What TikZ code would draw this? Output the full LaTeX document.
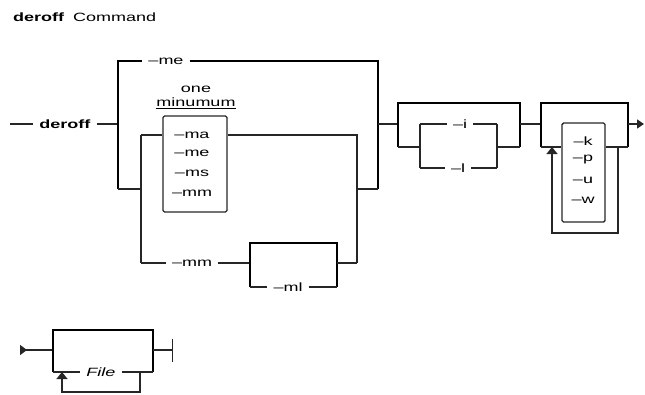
\documentclass[tikz,border=0pt]{standalone}
\usepackage{fontspec}
\usepackage{graphicx}
\setmainfont{Liberation Sans}
\usetikzlibrary{arrows.meta}
\newcommand{\wide}[1]{\scalebox{1.5}[1]{#1}}

\begin{document}
\begin{tikzpicture}[x=1pt,y=-1pt]
    \pgfmathsetmacro{\thin}{1.4}
    \pgfmathsetmacro{\thick}{2.8}
    \tikzset{every node/.style={font=\fontsize{12}{14}\selectfont},
        lbl/.style={inner xsep=6pt,inner ysep=1pt},
        item/.style={inner sep=1pt},
        grpbox/.style={draw=black!85,line width=\thin pt,rounded corners=1.5pt,inner sep=0pt},
        rail/.style={draw=black!85,line width=\thin pt},
        bar/.style={draw=black,line width=\thick pt},
        loopback/.style={rail,-{Triangle[length=7pt,width=11pt]}}}
    \useasboundingbox (0,0) rectangle (645,394);
    \node[anchor=west,inner sep=0pt] (title) at (13,17) {\wide{\textbf{deroff}}\hspace{9pt}\wide{Command}};
    \coordinate (s0) at (10,124);
    \coordinate (a1) at (118,124);
    \coordinate (a1t) at (118,61);
    \coordinate (a1b) at (118,189);
    \coordinate (a2) at (378,124);
    \coordinate (a2b) at (378,189);
    \coordinate (b1) at (141,189);
    \coordinate (b1t) at (141,135);
    \coordinate (b1b) at (141,263);
    \coordinate (b2) at (357,189);
    \coordinate (b2t) at (357,135);
    \coordinate (b2b) at (357,263);
    \coordinate (c1) at (250,263);
    \coordinate (c1t) at (250,243);
    \coordinate (c1b) at (250,287);
    \coordinate (c2) at (337,263);
    \coordinate (c2t) at (337,243);
    \coordinate (c2b) at (337,287);
    \coordinate (d1) at (398,124);
    \coordinate (d1t) at (398,103);
    \coordinate (d1b) at (398,147);
    \coordinate (d2) at (520,124);
    \coordinate (d2t) at (520,103);
    \coordinate (d2b) at (520,147);
    \coordinate (e1) at (420,147);
    \coordinate (e1t) at (420,124);
    \coordinate (e1b) at (420,168);
    \coordinate (e2) at (497,147);
    \coordinate (e2t) at (497,124);
    \coordinate (e2b) at (497,168);
    \coordinate (f1) at (541,124);
    \coordinate (f1t) at (541,103);
    \coordinate (f1b) at (541,147);
    \coordinate (f2) at (628,124);
    \coordinate (f2t) at (628,103);
    \coordinate (f2b) at (628,147);
    \coordinate (g1) at (552,147);
    \coordinate (g2) at (618,147);
    \coordinate (g2b) at (618,233);
    \coordinate (end) at (644,124);
    \coordinate (h0) at (20,350);
    \coordinate (h1) at (53,350);
    \coordinate (h1t) at (53,330);
    \coordinate (h1b) at (53,372);
    \coordinate (h2) at (153,350);
    \coordinate (h2t) at (153,330);
    \coordinate (h2b) at (153,372);
    \coordinate (h3) at (173,350);
    \coordinate (k1) at (62,372);
    \coordinate (k2) at (140,372);
    \coordinate (k2b) at (140,392);

    \node[lbl] (cmd) at (65,124) {\wide{\textbf{deroff}}};
    \node[lbl] (me) at (166,61) {\wide{--me}};
    \node[item] (one) at (196,89) {\wide{one}};
    \node[item] (minimum) at (196,103) {\underline{\wide{minumum}}};
    \node[grpbox,minimum width=64pt,minimum height=96pt] (macros) at (195,164) {};
    \node[item] (ma) at (192,135) {\wide{--ma}};
    \node[item] (me2) at (192,153) {\wide{--me}};
    \node[item] (ms) at (192,173) {\wide{--ms}};
    \node[item] (mm) at (192,193) {\wide{--mm}};
    \node[lbl] (mmopt) at (192,263) {\wide{--mm}};
    \node[lbl] (ml) at (288,287) {\wide{--ml}};
    \node[lbl] (opti) at (460,124) {\wide{--i}};
    \node[lbl] (optl) at (458,168) {\wide{--l}};
    \node[grpbox,minimum width=43pt,minimum height=99pt] (flags) at (583.5,172.5) {};
    \node[item] (k) at (583,141) {\wide{--k}};
    \node[item] (p) at (583,160) {\wide{--p}};
    \node[item] (u) at (583,180) {\wide{--u}};
    \node[item] (w) at (583,200) {\wide{--w}};
    \node[lbl] (file) at (101,372) {\wide{\textit{File}}};

    \draw[rail] (s0) -- (cmd.west);
    \draw[rail] (cmd.east) -- (a1);
    \draw[bar] (a1b) -- (a1t) -- (me.west);
    \draw[bar] (me.east) -| (a2b);
    \draw[rail] (a1b) -- (b1);
    \draw[rail] (b1t) -- (b1b);
    \draw[rail] (b1t) -- (b1t -| macros.west);
    \draw[rail] (b1t -| macros.east) -- (b2t) -- (b2b);
    \draw[rail] (b2) -- (a2b);
    \draw[rail] (b1b) -- (mmopt.west);
    \draw[rail] (mmopt.east) -- (c1);
    \draw[bar] (c1b) -- (c1t) -- (c2t) -- (c2b);
    \draw[rail] (c1b) -- (ml.west);
    \draw[rail] (ml.east) -- (c2b);
    \draw[rail] (c2) -- (b2b);

    \draw[rail] (a2) -- (d1);
    \draw[bar] (d1b) -- (d1t) -- (d2t) -- (d2b);
    \draw[rail] (d1b) -- (e1);
    \draw[rail] (e1t) -- (e1b);
    \draw[rail] (e1t) -- (opti.west);
    \draw[rail] (opti.east) -- (e2t);
    \draw[rail] (e1b) -- (optl.west);
    \draw[rail] (optl.east) -- (e2b);
    \draw[rail] (e2t) -- (e2b);
    \draw[rail] (e2) -- (d2b);
    \draw[rail] (d2) -- (f1);

    \draw[bar] (f1b) -- (f1t) -- (f2t) -- (f2b);
    \draw[rail] (f1b) -- (f1b -| flags.west);
    \draw[rail] (f2b -| flags.east) -- (f2b);
    \draw[loopback] (g2) -- (g2b) -| (g1);
    \draw[rail,-{Triangle[length=7pt,width=9pt]}] (f2) -- (end);

    \draw[rail,{Triangle[reversed,length=7pt,width=10pt]}-] (h0) -- (h1);
    \draw[bar] (h1b) -- (h1t) -- (h2t) -- (h2b);
    \draw[rail] (h1b) -- (file.west);
    \draw[rail] (file.east) -- (h2b);
    \draw[loopback] (k2) -- (k2b) -| (k1);
    \draw[rail,-{Bar[width=23pt]}] (h2) -- (h3);
\end{tikzpicture}
\end{document}
